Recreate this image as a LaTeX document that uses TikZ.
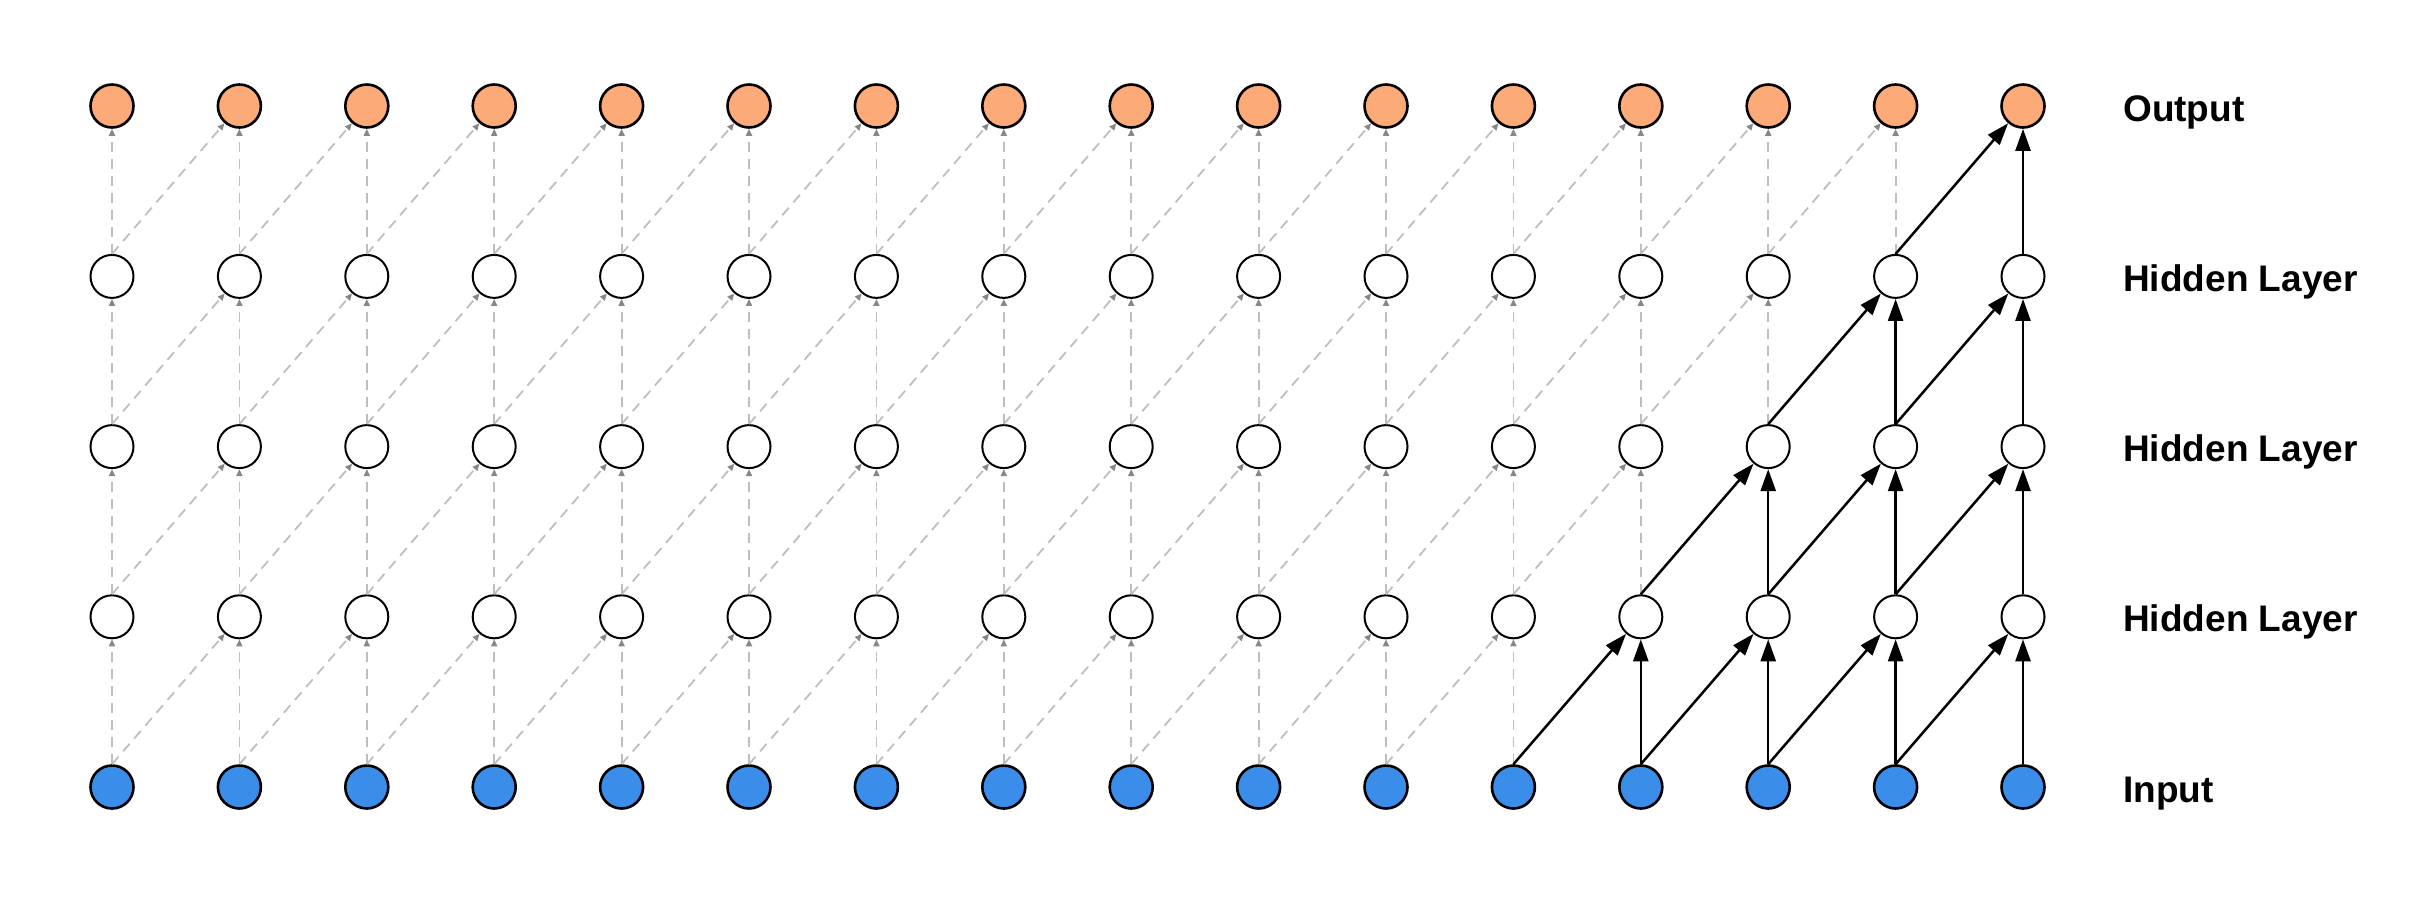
\documentclass[tikz,border=0pt]{standalone}
\usepackage{fontspec}
\setmainfont{Liberation Sans}
\usetikzlibrary{arrows.meta}
\definecolor{outfill}{RGB}{252,170,120}
\definecolor{infill}{RGB}{58,142,234}
\definecolor{dashgray}{RGB}{190,190,190}
\definecolor{tipgray}{RGB}{135,135,135}
\begin{document}
\begin{tikzpicture}[x=1pt,y=-1pt,
  neuron/.style={circle,draw=black,line width=2.6pt,minimum size=43pt,inner sep=0pt},
  outnode/.style={neuron,fill=outfill},
  hidnode/.style={neuron,fill=white,line width=2pt},
  innode/.style={neuron,fill=infill},
  dashedge/.style={draw=dashgray,line width=1.8pt,dash pattern=on 10pt off 7pt,-{Triangle[length=7pt,width=6pt,color=tipgray]}},
  solidedge/.style={draw=black,line width=2.5pt,-{Triangle[length=22pt,width=15pt]}},
  lbl/.style={anchor=base west,inner sep=0pt,font=\fontsize{37pt}{40pt}\selectfont\bfseries}]
\useasboundingbox (0,0) rectangle (2416,898);
\foreach \c in {0,...,15}{
  \pgfmathsetmacro\xx{112+127.4*\c}
  \node[innode] (n-0-\c) at (\xx,787) {};
  \foreach \r in {1,2,3}{
    \node[hidnode] (n-\r-\c) at (\xx,{787-170.2*\r}) {};
  }
  \node[outnode] (n-4-\c) at (\xx,106) {};
}
\foreach \r in {0,1,2,3}{
  \pgfmathtruncatemacro\rr{\r+1}
  \pgfmathtruncatemacro\vd{11+\r}
  \pgfmathtruncatemacro\vs{12+\r}
  \pgfmathtruncatemacro\dd{10+\r}
  \pgfmathtruncatemacro\ds{11+\r}
  \foreach \c in {0,...,\vd}{
    \draw[dashedge] (n-\r-\c.north) -- (n-\rr-\c.south);
  }
  \foreach \c in {0,...,\dd}{
    \pgfmathtruncatemacro\cn{\c+1}
    \draw[dashedge] (n-\r-\c.north) -- (n-\rr-\cn);
  }
  \foreach \c in {\vs,...,15}{
    \draw[solidedge] (n-\r-\c.north) -- (n-\rr-\c.south);
  }
  \foreach \c in {\ds,...,14}{
    \pgfmathtruncatemacro\cn{\c+1}
    \draw[solidedge] (n-\r-\c.north) -- (n-\rr-\cn);
  }
}
\node[lbl] (l-out) at (2123,121) {Output};
\node[lbl] (l-h3) at (2123,291) {Hidden Layer};
\node[lbl] (l-h2) at (2123,461) {Hidden Layer};
\node[lbl] (l-h1) at (2123,631) {Hidden Layer};
\node[lbl] (l-in) at (2123,802) {Input};
\end{tikzpicture}
\end{document}
